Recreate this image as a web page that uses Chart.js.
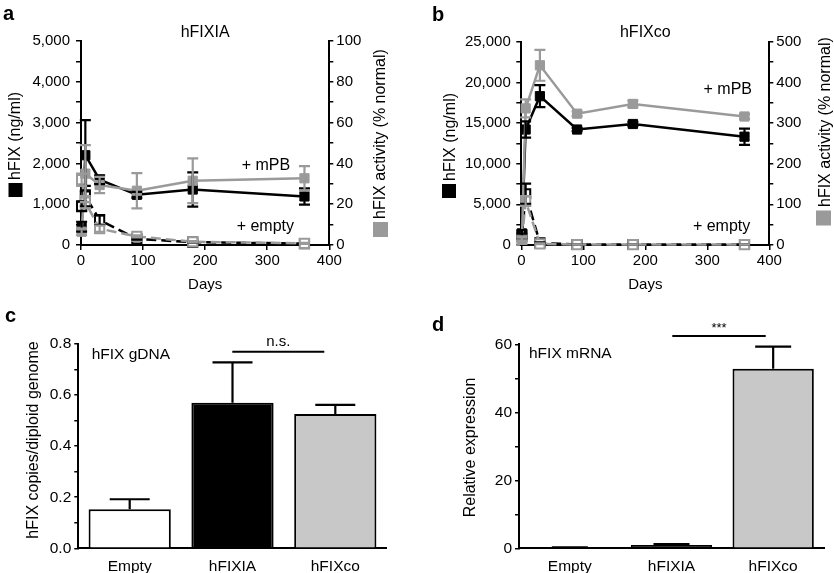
<!DOCTYPE html>
<html>
<head>
<meta charset="utf-8">
<title>hFIX expression</title>
<script src="https://cdn.jsdelivr.net/npm/chart.js@4.4.1/dist/chart.umd.min.js"></script>
<style>
  body { margin: 0; background: #fff; }
  #wrap { position: relative; width: 834px; height: 573px; }
  canvas { position: absolute; }
</style>
</head>
<body>
<div id="wrap">
  <canvas id="chartA" width="417" height="300" style="left:0;top:0"></canvas>
  <canvas id="chartB" width="417" height="300" style="left:417px;top:0"></canvas>
  <canvas id="chartC" width="417" height="273" style="left:0;top:300px"></canvas>
  <canvas id="chartD" width="417" height="273" style="left:417px;top:300px"></canvas>
</div>
<script>
// sampling days (same for both time courses)
var days = [1, 7, 30, 90, 180, 360];

// panel a - hFIXIA (protein ng/ml on left axis, activity % normal on right axis)
var aMpbFix = [450, 2200, 1600, 1230, 1360, 1190];
var aMpbFixErr = [120, 860, 110, 70, 420, 200];
var aMpbAct = [6.5, 35, 29.4, 26.6, 31.5, 32.7];
var aMpbActErr = [1.5, 14, 4, 8.6, 11, 6];
var aEmptyFix = [950, 1200, 610, 150, 70, 35];
var aEmptyFixErr = [120, 250, 120, 20, 10, 5];
var aEmptyAct = [32, 21, 8, 4.2, 1.6, 0.8];
var aEmptyActErr = [3, 3, 1.5, 0.5, 0.3, 0.2];

// panel b - hFIXco
var bMpbFix = [1430, 14200, 18300, 14200, 14880, 13320];
var bMpbFixErr = [400, 1000, 1350, 200, 250, 1000];
var bMpbAct = [16, 336, 442, 323, 347, 316];
var bMpbActErr = [5, 22, 38, 6, 8, 6];
var bEmptyFix = [1100, 6300, 250, 60, 60, 60];
var bEmptyFixErr = [300, 1250, 80, 10, 10, 10];
var bEmptyAct = [14, 108, 3, 1, 1, 1];
var bEmptyActErr = [4, 12, 1, 0.3, 0.3, 0.3];

// panels c and d - bar charts
var groups = ['Empty', 'hFIXIA', 'hFIXco'];
var gdnaMean = [0.153, 0.570, 0.526];
var gdnaSem = [0.039, 0.158, 0.036];
var mrnaMean = [0.2, 1.0, 52.8];
var mrnaSem = [0.05, 0.2, 6.5];

var BLACK = '#000000';
var GRAY = '#9a9a9a';
var BAR_COLORS = ['#ffffff', '#000000', '#c8c8c8'];
var FONT = "'Liberation Sans', Arial, Helvetica, sans-serif";

Chart.defaults.font.family = FONT;
Chart.defaults.color = '#000';
Chart.defaults.animation = false;

// draws SEM whiskers for any dataset carrying an "errors" array
var errorBars = {
    id: 'errorBars',
    afterDatasetsDraw: function(chart) {
        var ctx = chart.ctx;
        var idx = [];
        chart.data.datasets.forEach(function(ds, i) { if (ds.errors) idx.push(i); });
        // draw the lower layers first
        idx.sort(function(p, q) {
            return (chart.data.datasets[q].order || 0) - (chart.data.datasets[p].order || 0);
        });
        idx.forEach(function(i) {
            var ds = chart.data.datasets[i];
            var meta = chart.getDatasetMeta(i);
            var yScale = chart.scales[meta.yAxisID];
            var cap = ds.capWidth || 5.5;
            ctx.save();
            ctx.strokeStyle = ds.errorColor || ds.borderColor;
            ctx.lineWidth = 2.2;
            meta.data.forEach(function(el, j) {
                var raw = ds.data[j];
                var v = (typeof raw === 'object') ? raw.y : raw;
                var e = ds.errors[j];
                if (!e) return;
                var top = yScale.getPixelForValue(v + e);
                var bottom = ds.upperOnly ? el.y : yScale.getPixelForValue(v - e);
                ctx.beginPath();
                ctx.moveTo(el.x, top);
                ctx.lineTo(el.x, bottom);
                ctx.moveTo(el.x - cap, top);
                ctx.lineTo(el.x + cap, top);
                if (!ds.upperOnly) {
                    ctx.moveTo(el.x - cap, bottom);
                    ctx.lineTo(el.x + cap, bottom);
                }
                ctx.stroke();
            });
            ctx.restore();
        });
    }
};

// small text helpers for the overlay plugins
function putText(ctx, text, x, y, size, align, bold) {
    ctx.font = (bold ? 'bold ' : '') + size + 'px ' + FONT;
    ctx.fillStyle = '#000';
    ctx.textAlign = align || 'center';
    ctx.textBaseline = bold ? 'alphabetic' : 'middle';
    ctx.fillText(text, x, y);
}

function putVText(ctx, text, x, y, size, align) {
    ctx.save();
    ctx.translate(x, y);
    ctx.rotate(-Math.PI / 2);
    ctx.font = size + 'px ' + FONT;
    ctx.fillStyle = '#000';
    ctx.textAlign = align;
    ctx.textBaseline = 'middle';
    ctx.fillText(text, 0, 0);
    ctx.restore();
}

function hLine(ctx, x1, x2, y) {
    ctx.strokeStyle = '#000';
    ctx.lineWidth = 2;
    ctx.beginPath();
    ctx.moveTo(x1, y);
    ctx.lineTo(x2, y);
    ctx.stroke();
}

function overlay(draw) {
    return {
        id: 'overlay',
        afterDraw: function(chart) {
            chart.ctx.save();
            draw(chart, chart.ctx);
            chart.ctx.restore();
        }
    };
}

function lineSet(values, errors, color, axis, empty) {
    return {
        data: days.map(function(d, i) { return { x: d, y: values[i] }; }),
        errors: errors,
        yAxisID: axis,
        borderColor: color,
        backgroundColor: color,
        borderWidth: 2.5,
        borderDash: empty ? [10, 5] : [],
        pointStyle: 'rect',
        pointRadius: 6.5,
        pointBorderWidth: empty ? 2 : 1,
        pointBackgroundColor: empty ? '#fff' : color,
        pointBorderColor: color,
        order: color === GRAY ? 1 : 2,
        clip: false
    };
}

function tickGrid(len) {
    return { drawOnChartArea: false, drawTicks: true, tickLength: len, color: '#000', lineWidth: 1.5 };
}

function timeChart(id, sets, box, left, right) {
    return new Chart(document.getElementById(id), {
        type: 'line',
        data: { datasets: sets },
        options: {
            responsive: false,
            layout: { padding: { top: box.top, left: 0, right: 0, bottom: 0 } },
            plugins: { legend: { display: false }, tooltip: { enabled: false } },
            scales: {
                x: {
                    type: 'linear', min: 0, max: 400,
                    ticks: { stepSize: 100, font: { size: 15 }, padding: 2, autoSkip: false },
                    grid: tickGrid(5),
                    border: { color: '#000', width: 2 },
                    title: { display: true, text: 'Days', font: { size: 15 }, padding: { top: 0, bottom: 6 } },
                    afterFit: function(s) { s.height = box.xHeight; }
                },
                y: {
                    position: 'left', min: 0, max: left.max,
                    ticks: {
                        stepSize: left.step, font: { size: 15 }, padding: left.pad, autoSkip: false,
                        callback: function(v) { return v % left.label === 0 ? v.toLocaleString('en-US') : ''; }
                    },
                    grid: tickGrid(5),
                    border: { color: '#000', width: 2 },
                    afterFit: function(s) { s.width = box.left; }
                },
                y2: {
                    position: 'right', min: 0, max: right.max,
                    ticks: {
                        stepSize: right.step, font: { size: 15 }, padding: right.pad, autoSkip: false,
                        callback: function(v) { return v % right.label === 0 ? v : ''; }
                    },
                    grid: tickGrid(4),
                    border: { color: '#000', width: 2 },
                    afterFit: function(s) { s.width = box.right; }
                }
            }
        },
        plugins: [errorBars, overlay(box.draw)]
    });
}

// ---- panel a
timeChart('chartA', [
    lineSet(aMpbAct, aMpbActErr, GRAY, 'y2', false),
    lineSet(aEmptyAct, aEmptyActErr, GRAY, 'y2', true),
    lineSet(aMpbFix, aMpbFixErr, BLACK, 'y', false),
    lineSet(aEmptyFix, aEmptyFixErr, BLACK, 'y', true)
], {
    top: 41, left: 81, right: 87.7, xHeight: 55,
    draw: function(chart, ctx) {
        var x = chart.scales.x, y = chart.scales.y, a = chart.chartArea;
        putText(ctx, 'a', 3, 20, 20, 'left', true);
        putText(ctx, 'hFIXIA', (a.left + a.right) / 2, 33, 16);
        putText(ctx, '+ mPB', x.getPixelForValue(298), y.getPixelForValue(1943), 16);
        putText(ctx, '+ empty', x.getPixelForValue(297), y.getPixelForValue(448), 16);
        putVText(ctx, 'hFIX (ng/ml)', 15.5, 180, 16, 'left');
        ctx.fillStyle = BLACK;
        ctx.fillRect(8.5, 183, 14, 14);
        putVText(ctx, 'hFIX activity (% normal)', 380.5, 219, 16, 'left');
        ctx.fillStyle = GRAY;
        ctx.fillRect(373, 222, 15, 15);
    }
}, { max: 5000, step: 500, label: 1000, pad: 6 }, { max: 100, step: 10, label: 20, pad: 3 });

// ---- panel b
timeChart('chartB', [
    lineSet(bMpbAct, bMpbActErr, GRAY, 'y2', false),
    lineSet(bEmptyAct, bEmptyActErr, GRAY, 'y2', true),
    lineSet(bMpbFix, bMpbFixErr, BLACK, 'y', false),
    lineSet(bEmptyFix, bEmptyFixErr, BLACK, 'y', true)
], {
    top: 41.7, left: 104.3, right: 64.7, xHeight: 55,
    draw: function(chart, ctx) {
        var x = chart.scales.x, y = chart.scales.y, a = chart.chartArea;
        putText(ctx, 'b', 15, 21, 20, 'left', true);
        putText(ctx, 'hFIXco', (a.left + a.right) / 2, 33, 16);
        putText(ctx, '+ mPB', x.getPixelForValue(333), y.getPixelForValue(19150), 16);
        putText(ctx, '+ empty', x.getPixelForValue(323), y.getPixelForValue(2250), 16);
        putVText(ctx, 'hFIX (ng/ml)', 33.7, 181, 16, 'left');
        ctx.fillStyle = BLACK;
        ctx.fillRect(25, 184, 14, 14);
        putVText(ctx, 'hFIX activity (% normal)', 408.7, 207, 16, 'left');
        ctx.fillStyle = GRAY;
        ctx.fillRect(399, 210.5, 15, 15);
    }
}, { max: 25000, step: 2500, label: 5000, pad: 5.5 }, { max: 500, step: 50, label: 100, pad: 3 });

// ---- bar panels
function barChart(id, mean, sem, box, yOpts) {
    return new Chart(document.getElementById(id), {
        type: 'bar',
        data: {
            labels: groups,
            datasets: [{
                data: mean,
                errors: sem,
                upperOnly: true,
                capWidth: box.cap,
                errorColor: '#000',
                backgroundColor: BAR_COLORS,
                borderColor: '#000',
                borderWidth: 2,
                barPercentage: 0.8,
                categoryPercentage: 1
            }]
        },
        options: {
            responsive: false,
            layout: { padding: { top: box.top, left: 0, right: box.padRight, bottom: 0 } },
            plugins: { legend: { display: false }, tooltip: { enabled: false } },
            scales: {
                x: {
                    ticks: { font: { size: 15.5 }, padding: 9 },
                    grid: { display: false, drawTicks: false },
                    border: { display: true, color: '#000', width: 2 },
                    afterFit: function(s) { s.height = box.xHeight; }
                },
                y: {
                    min: 0, max: yOpts.max,
                    ticks: {
                        stepSize: yOpts.step, font: { size: 15.5 }, padding: 3, autoSkip: false,
                        callback: yOpts.fmt
                    },
                    grid: tickGrid(4),
                    border: { color: '#000', width: 2 },
                    afterFit: function(s) { s.width = box.left; }
                }
            }
        },
        plugins: [errorBars, overlay(box.draw)]
    });
}

// ---- panel c
barChart('chartC', gdnaMean, gdnaSem, {
    top: 44, left: 78.3, padRight: 30.3, xHeight: 24.7, cap: 20,
    draw: function(chart, ctx) {
        putText(ctx, 'c', 5, 22, 20, 'left', true);
        putText(ctx, 'hFIX gDNA', 91.7, 55, 15.5, 'left');
        hLine(ctx, 232.3, 324.3, 51.7);
        putText(ctx, 'n.s.', 278.3, 42.3, 15);
        putVText(ctx, 'hFIX copies/diploid genome', 34, 140, 16, 'center');
    }
}, {
    max: 0.8, step: 0.1,
    fmt: function(v) { return Math.round(v * 10) % 2 === 0 ? v.toFixed(1) : ''; }
});

// ---- panel d
barChart('chartD', mrnaMean, mrnaSem, {
    top: 44.3, left: 102, padRight: 10, xHeight: 24.7, cap: 18,
    draw: function(chart, ctx) {
        putText(ctx, 'd', 15, 31, 20, 'left', true);
        putText(ctx, 'hFIX mRNA', 112, 53.3, 15.5, 'left');
        hLine(ctx, 255.3, 348.7, 36);
        putText(ctx, '***', 302, 28, 13);
        putVText(ctx, 'Relative expression', 53.3, 147.5, 16, 'center');
    }
}, {
    max: 60, step: 10,
    fmt: function(v) { return v % 20 === 0 ? v : ''; }
});
</script>
</body>
</html>
